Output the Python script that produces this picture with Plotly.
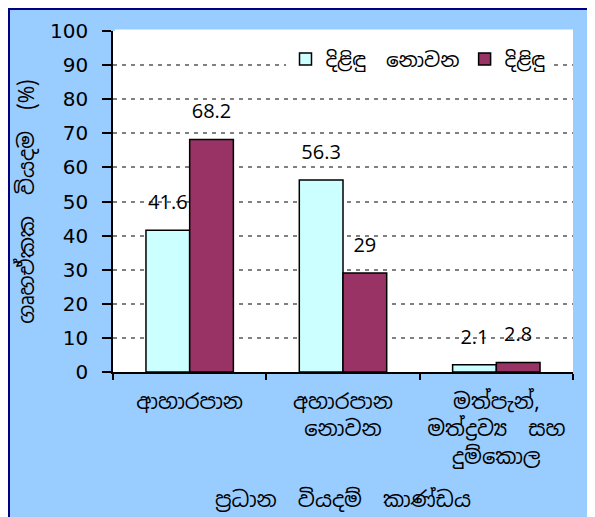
import plotly.graph_objects as go

categories = ["ආහාරපාන", "අහාරපාන<br>නොවන", "මත්පැන්,<br>මත්ද්‍රව්‍ය  සහ<br>දුම්කොල"]
series_names = ["දිළිඳු  නොවන", "දිළිඳු"]
non_poor = [41.6, 56.3, 2.1]
poor = [68.2, 29, 2.8]
non_poor_labels = ["41.6", "56.3", "2.1"]
poor_labels = ["68.2", "29", "2.8"]
y_ticks = [0, 10, 20, 30, 40, 50, 60, 70, 80, 90, 100]

colors = ["#CCFFFF", "#993366"]
sinhala_font = "Noto Sans Sinhala, Iskoola Pota, DejaVu Sans, sans-serif"

ML, MR, MT, MB = 105, 30, 23, 153
W, H = 595, 517
PW, PH = W - ML - MR, H - MT - MB

fig = go.Figure()
for name, vals, labels, col, grp in [
    (series_names[0], non_poor, non_poor_labels, colors[0], "a"),
    (series_names[1], poor, poor_labels, colors[1], "b"),
]:
    fig.add_trace(go.Bar(
        x=categories, y=vals, name=name, offsetgroup=grp,
        marker=dict(color=col, line=dict(color="black", width=1.5)),
    ))
    fig.add_trace(go.Scatter(
        x=categories, y=vals, text=labels, mode="markers+text",
        offsetgroup=grp, showlegend=False, hoverinfo="skip",
        marker=dict(size=24, opacity=0),
        textposition="top center",
        textfont=dict(family="Open Sans", size=20, color="black"),
        cliponaxis=False,
    ))

fig.update_layout(
    width=W, height=H,
    margin=dict(l=ML, r=MR, t=MT, b=MB),
    paper_bgcolor="#99CCFF",
    plot_bgcolor="white",
    barmode="group", bargap=0.43, bargroupgap=0,
    scattermode="group", scattergap=0.43,
    showlegend=True,
    legend=dict(
        orientation="h", x=0.375, y=0.975, xanchor="left", yanchor="top",
        bgcolor="white", font=dict(family=sinhala_font, size=20, color="black"),
        itemwidth=30, traceorder="normal",
    ),
    shapes=[
        dict(
            type="rect", xref="paper", yref="paper",
            x0=-(ML - 1) / PW, x1=1 + (MR + 20) / PW, y0=-(MB + 20) / PH, y1=1 + (MT - 1) / PH,
            line=dict(color="#000080", width=2), fillcolor="rgba(0,0,0,0)", layer="below",
        ),
        dict(
            type="line", xref="paper", yref="paper", x0=0.004, x1=1, y0=1, y1=1,
            line=dict(color="white", width=3), layer="above",
        ),
    ],
)
fig.update_xaxes(
    type="category", showline=True, linecolor="black", linewidth=1.5,
    ticks="outside", tickson="boundaries", ticklen=6, tickcolor="black", tickwidth=1.5,
    tickfont=dict(family=sinhala_font, size=21, color="black"),
    ticklabelstandoff=10,
    title=dict(text="ප්‍රධාන  වියදම්  කාණ්ඩය", font=dict(family=sinhala_font, size=21, color="black"), standoff=24),
    showgrid=False,
)
fig.update_yaxes(
    range=[0, 100], tickvals=y_ticks, showline=True, linecolor="black", linewidth=1.5,
    ticks="outside", ticklen=9, tickcolor="black", tickwidth=1.5,
    tickfont=dict(family="DejaVu Sans", size=20, color="black"),
    ticklabelstandoff=10,
    showgrid=True, gridcolor="#808080", gridwidth=1.5, griddash="4px,5px",
    zeroline=False,
    title=dict(text="ගෘහඒකක  වියදම  (%)", font=dict(family=sinhala_font, size=21, color="black"), standoff=10),
)

fig.write_html("out.html")
